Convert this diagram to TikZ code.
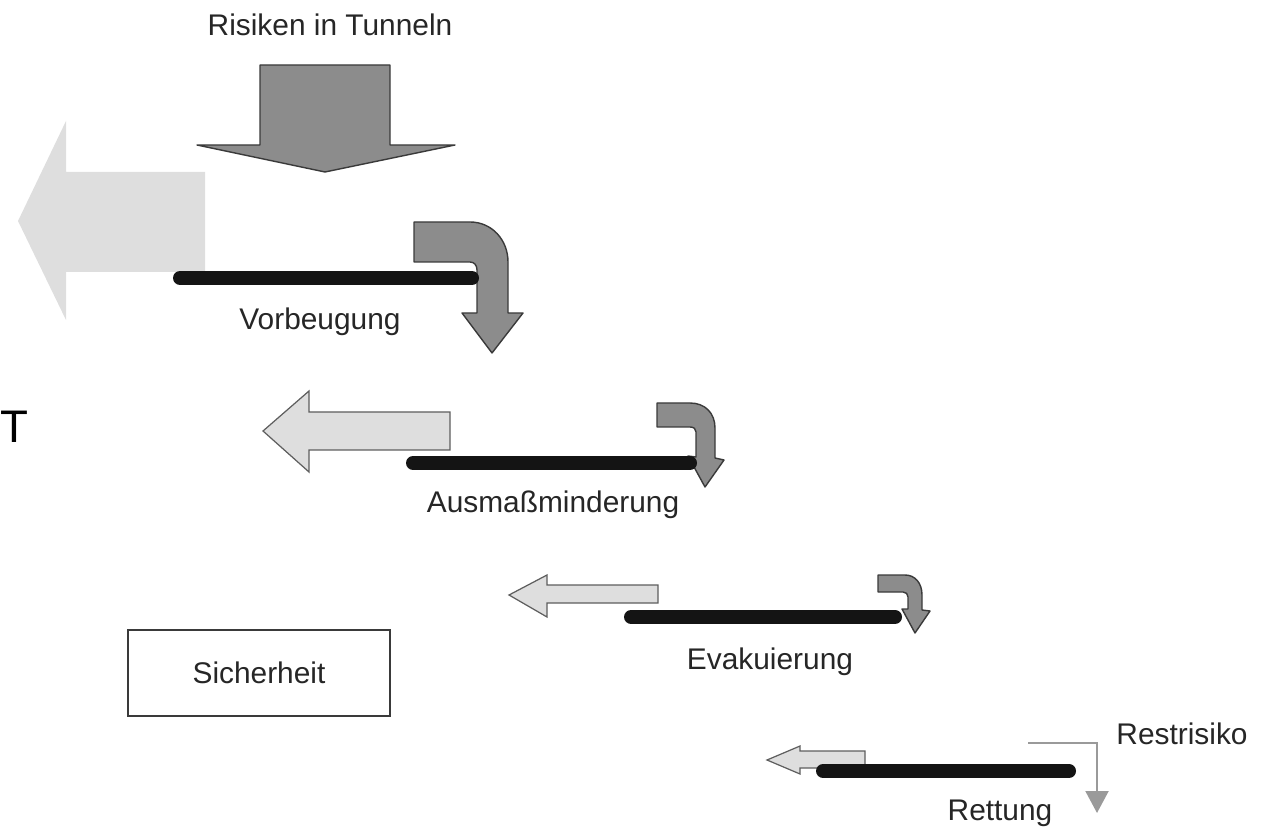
\documentclass[tikz,border=0pt]{standalone}
\usepackage{fontspec}
\setmainfont{Liberation Sans}
\usetikzlibrary{arrows.meta, positioning}
\definecolor{darkFill}{HTML}{8C8C8C}
\definecolor{darkLine}{HTML}{3A3A3A}
\definecolor{lightFill}{HTML}{DEDEDE}
\definecolor{lightLine}{HTML}{5E5E5E}
\definecolor{barBlack}{HTML}{141414}
\definecolor{textDark}{HTML}{262626}
\definecolor{restGray}{HTML}{9A9A9A}

\begin{document}
\begin{tikzpicture}[
          x=0.02cm, y=-0.02cm,
          darrow/.style={draw=darkLine, fill=darkFill, line width=0.8pt, line join=round},
          larrow/.style={draw=lightLine, fill=lightFill, line width=0.7pt},
          bar/.style={draw=barBlack, line width=0.28cm, line cap=round},
          lbl/.style={text=textDark, font=\fontsize{17}{20}\selectfont, inner sep=1pt},
          rarr/.style={-{Triangle[length=4.4mm, width=4.6mm]}, draw=restGray, line width=1.2pt}
        ]
        \useasboundingbox (0,0) rectangle (1270,830);
        % input arrow
        \node[lbl] (titel) at (330,25) {Risiken in Tunneln};
        \path[darrow] (260,65) -- (390,65) -- (390,145) -- (455,145) -- (325,172) -- (197,145) -- (260,145) -- cycle;
        % Vorbeugung
        \path[fill=lightFill] (205,172) -- (66,172) -- (66,121) -- (18,221) -- (66,320) -- (66,272) -- (205,272) -- cycle;
        \path[darrow] (414,222) -- (470,222) .. controls (492,222) and (508,240) .. (508,262) -- (508,313) -- (523,313) -- (492,353) -- (462,313) -- (477,313) -- (477,270) .. controls (477,265) and (474,262) .. (470,262) -- (414,262) -- cycle;
        \draw[bar] (180,278) -- (472,278);
        \node[lbl] (vorb) at (320,322) {Vorbeugung};
        % Ausmassminderung
        \path[larrow] (450,412) -- (309,412) -- (309,391) -- (263,431) -- (309,472) -- (309,450) -- (450,450) -- cycle;
        \path[darrow] (657,403) -- (690,403) .. controls (705,403) and (715,413) .. (715,428) -- (715,458) -- (724,460) -- (705,487) -- (688,456) -- (696,457) -- (696,432) .. controls (696,429) and (694,427) .. (690,427) -- (657,427) -- cycle;
        \draw[bar] (413,463) -- (690,463);
        \node[lbl] (ausm) at (553,505) {Ausmaßminderung};
        % Evakuierung
        \path[larrow] (658,585) -- (547,585) -- (547,575) -- (509,595) -- (547,617) -- (547,603) -- (658,603) -- cycle;
        \path[darrow] (878,575) -- (905,575) .. controls (915,575) and (922,583) .. (922,595) -- (922,610) -- (930,611) -- (915,633) -- (902,609) -- (908,609) -- (908,597) .. controls (908,594) and (906,592) .. (903,592) -- (878,592) -- cycle;
        \draw[bar] (631,617) -- (895,617);
        \node[lbl] (evak) at (770,662) {Evakuierung};
        % Rettung
        \path[larrow] (865,751) -- (800,751) -- (800,746) -- (767,760) -- (800,774) -- (800,768) -- (865,768) -- cycle;
        \draw[bar] (823,771) -- (1069,771);
        \node[lbl] (rett) at (1000,813) {Rettung};
        \coordinate (rsStart) at (1028,743);
        \coordinate (rsEnd) at (1097,813);
        \draw[rarr] (rsStart) -| (rsEnd);
        \node[lbl] (rest) at (1182,734) {Restrisiko};
        % Sicherheit
        \node[lbl, draw=darkLine, line width=1pt, minimum width=5.24cm, minimum height=1.72cm] (sicher) at (259,673) {Sicherheit};
        \node[font=\fontsize{26}{30}\selectfont, inner sep=0pt, anchor=base west] (rand) at (0,443) {T};
      \end{tikzpicture}
\end{document}
